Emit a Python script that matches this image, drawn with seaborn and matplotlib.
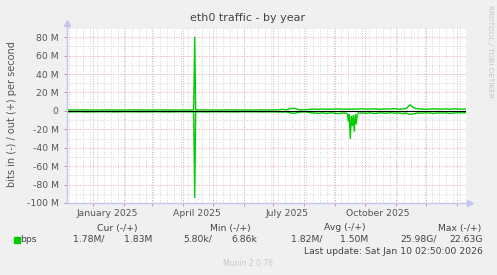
import numpy as np
import pandas as pd
import matplotlib
matplotlib.use("Agg")
import matplotlib.pyplot as plt
import matplotlib.patches as mpatches
import seaborn as sns

# ---------------- data ----------------
start_date = "2024-12-06"
end_date = "2026-01-10"
step = "4D"

# out (+) traffic, Mbit/s, one value every 4 days
out_vals = [
    1.0, 1.0, 0.9, 1.0, 1.1, 1.0, 1.0, 0.9, 1.0, 1.0,
    1.1, 1.0, 1.0, 1.0, 0.9, 1.0, 1.0, 1.1, 1.0, 1.0,
    1.0, 0.9, 1.0, 1.0, 1.1, 1.0, 1.0, 1.0, 0.9, 1.0,
    1.0, 1.0, 80.0, 1.0, 1.1, 1.0, 1.0, 1.0, 0.9, 1.0,
    1.0, 1.1, 1.0, 1.0, 1.0, 0.9, 1.0, 1.0, 1.1, 1.0,
    1.0, 1.0, 1.1, 1.2, 1.7, 1.2, 2.4, 2.8, 1.4, 1.1,
    1.3, 1.8, 2.0, 1.7, 2.1, 1.8, 2.0, 1.9, 2.2, 1.8,
    2.0, 1.7, 1.9, 2.1, 2.3, 1.9, 2.0, 2.2, 1.8, 1.9,
    2.2, 2.0, 2.5, 1.9, 2.1, 2.6, 6.5, 3.0, 2.2, 2.0,
    1.8, 2.0, 2.3, 1.9, 2.0, 2.2, 1.8, 2.3, 2.1, 1.9,
    1.83,
]
# in (-) traffic, Mbit/s (drawn below zero)
in_vals = [
    1.0, 1.0, 1.0, 0.9, 1.0, 1.1, 1.0, 1.0, 1.0, 0.9,
    1.0, 1.0, 1.1, 1.0, 1.0, 0.9, 1.0, 1.0, 1.0, 1.1,
    1.0, 1.0, 0.9, 1.0, 1.0, 1.0, 1.1, 1.0, 1.0, 0.9,
    1.0, 1.0, 94.0, 1.0, 1.0, 1.1, 1.0, 0.9, 1.0, 1.0,
    1.0, 1.0, 1.1, 1.0, 0.9, 1.0, 1.0, 1.0, 1.0, 1.1,
    1.0, 1.0, 1.1, 1.2, 1.3, 1.1, 2.2, 2.6, 1.5, 1.1,
    1.2, 2.0, 2.3, 2.6, 2.1, 2.8, 2.2, 2.4, 3.0, 2.3,
    2.5, 30.0, 22.0, 2.4, 2.2, 2.6, 2.1, 2.9, 2.3, 2.2,
    2.6, 2.1, 2.4, 2.2, 2.8, 2.3, 3.8, 3.0, 2.2, 2.5,
    2.1, 2.3, 2.7, 2.2, 2.4, 2.1, 2.6, 2.3, 2.0, 2.2,
    1.78,
]
# extra daily samples around the sharp events
extra_dates = ["2025-04-12", "2025-04-14",
               "2025-09-13", "2025-09-14", "2025-09-15", "2025-09-17",
               "2025-09-18", "2025-09-19", "2025-09-21", "2025-09-22",
               "2025-09-23"]
extra_out = [1.0, 1.0, 1.9, 2.1, 1.8, 2.0, 1.7, 2.2, 1.9, 2.0, 1.8]
extra_in = [1.0, 1.0, 3.0, 11.0, 4.0, 6.0, 16.0, 5.0, 4.0, 14.0, 3.0]

ytick_values = [-100, -80, -60, -40, -20, 0, 20, 40, 60, 80]
ytick_labels = ["-100 M", "-80 M", "-60 M", "-40 M", "-20 M", "0",
                "20 M", "40 M", "60 M", "80 M"]
xlabel_dates = ["2025-01-15", "2025-04-15", "2025-07-15", "2025-10-14"]
xlabel_text = ["January 2025", "April 2025", "July 2025", "October 2025"]

title = "eth0 traffic - by year"
ylabel = "bits in (-) / out (+) per second"
legend_name = "bps"
legend_headers = ["Cur (-/+)", "Min (-/+)", "Avg (-/+)", "Max (-/+)"]
legend_values = ["1.78M/", "1.83M", "5.80k/", "6.86k",
                 "1.82M/", "1.50M", "25.98G/", "22.63G"]
last_update = "Last update: Sat Jan 10 02:50:00 2026"
watermark = "Munin 2.0.76"
side_text = "RRDTOOL / TOBI OETIKER"

# ---------------- build table ----------------
base = pd.DataFrame({"date": pd.date_range(start_date, end_date, freq=step),
                     "out": out_vals, "in": in_vals})
extra = pd.DataFrame({"date": pd.to_datetime(extra_dates),
                      "out": extra_out, "in": extra_in})
df = pd.concat([base, extra]).sort_values("date").reset_index(drop=True)
df["in_neg"] = -df["in"]

# ---------------- figure ----------------
sns.set_style("white")
plt.rcParams["font.family"] = ["DejaVu Sans"]

W, H = 497, 275
BG = "#F0F0F0"
fig = plt.figure(figsize=(W / 100, H / 100), dpi=100, facecolor=BG)
L, R, T, B = 67, 466, 28, 203
ax = fig.add_axes([L / W, 1 - B / H, (R - L) / W, (B - T) / H])
ax.set_facecolor("white")

x0, x1 = pd.Timestamp(start_date), pd.Timestamp(end_date)
ymin, ymax = -100, 90

# grid
grid_minor = "#d4d4d4"
grid_major = "#e8a8a8"
dots = (0, (1, 1.6))
weeks = pd.date_range("2024-12-08", end_date, freq="W-SUN")
months = pd.date_range("2025-01-01", "2026-01-01", freq="MS")
ax.vlines(weeks, ymin, ymax, colors=grid_minor, linestyles=dots, lw=0.7, zorder=0)
ax.vlines(months, ymin, ymax, colors=grid_major, linestyles=dots, lw=0.7, zorder=0.5)
minor_y = [v for v in range(-90, 91, 10) if v % 20 != 0]
ax.hlines(minor_y, x0, x1, colors=grid_minor, linestyles=dots, lw=0.7, zorder=0)
ax.hlines([v for v in ytick_values if v > ymin], x0, x1, colors=grid_major,
          linestyles=dots, lw=0.7, zorder=0.5)

green = "#00CC00"
sns.lineplot(data=df, x="date", y="out", ax=ax, color=green, lw=1.0,
             estimator=None, zorder=2)
sns.lineplot(data=df, x="date", y="in_neg", ax=ax, color=green, lw=1.0,
             estimator=None, zorder=2)
ax.axhline(0, color="black", lw=0.8, zorder=3)

ax.set_xlim(x0, x1)
ax.set_ylim(ymin, ymax)
ax.set_xlabel("")
ax.set_ylabel("")

txt = "#555555"
ax.set_yticks(ytick_values)
ax.set_yticklabels(ytick_labels, fontsize=6.7, color=txt)
ax.tick_params(axis="y", length=2, width=0.7, color="#c89090", pad=4, left=True)
ax.set_xticks(pd.to_datetime(xlabel_dates))
ax.set_xticklabels(xlabel_text, fontsize=6.7, color=txt)
ax.tick_params(axis="x", length=0, pad=4.5)
ax.set_xticks(months, minor=True)
ax.tick_params(axis="x", which="minor", length=2.5, width=0.7,
               color="#e09090", bottom=True)

axis_col = "#c4c4f0"
for s in ["top", "right"]:
    ax.spines[s].set_visible(False)
for s in ["left", "bottom"]:
    ax.spines[s].set_color(axis_col)
    ax.spines[s].set_linewidth(1.0)
    ax.spines[s].set_zorder(4)
# axis extensions with arrows
ax.plot([0, 0], [1, 1.025], transform=ax.transAxes, color=axis_col, lw=1.0,
        clip_on=False)
ax.plot([0], [1.03], transform=ax.transAxes, marker="^", ms=4.5,
        color=axis_col, clip_on=False)
ax.plot([1, 1.008], [0, 0], transform=ax.transAxes, color=axis_col, lw=1.0,
        clip_on=False)
ax.plot([1.01], [0], transform=ax.transAxes, marker=">", ms=4.5,
        color=axis_col, clip_on=False)


def ft(x, y, s, **kw):
    fig.text(x / W, 1 - y / H, s, **kw)


ft(248, 18, title, fontsize=8, color="#444444", ha="center", va="center")
ft(12, 114, ylabel, fontsize=7, color=txt, ha="center", va="center",
   rotation=90)
ft(490, 51, side_text, fontsize=5.2, color="#c4c4c4", ha="center",
   va="center", rotation=270)

leg = "#444444"
header_x = [117.5, 230, 344.5, 460]
for hx, h in zip(header_x, legend_headers):
    ft(hx, 228, h, fontsize=6.7, color=leg, ha="center", va="center")
fig.patches.append(mpatches.Rectangle((14 / W, 1 - 242.5 / H), 6 / W, 6 / H,
                                      transform=fig.transFigure,
                                      color=green, zorder=5))
ft(20.5, 239.5, legend_name, fontsize=6.7, color=leg, ha="left", va="center")
value_x = [105, 152, 212.5, 257, 322, 368.5, 437, 482.5]
for vx, v in zip(value_x, legend_values):
    ft(vx, 239.5, v, fontsize=6.7, color=leg, ha="right", va="center")
ft(482.5, 251, last_update, fontsize=6.7, color=leg, ha="right", va="center")
ft(248, 263, watermark, fontsize=5.5, color="#c8c8c8", ha="center",
   va="center")

fig.savefig("out.png", dpi=100, facecolor=BG)
